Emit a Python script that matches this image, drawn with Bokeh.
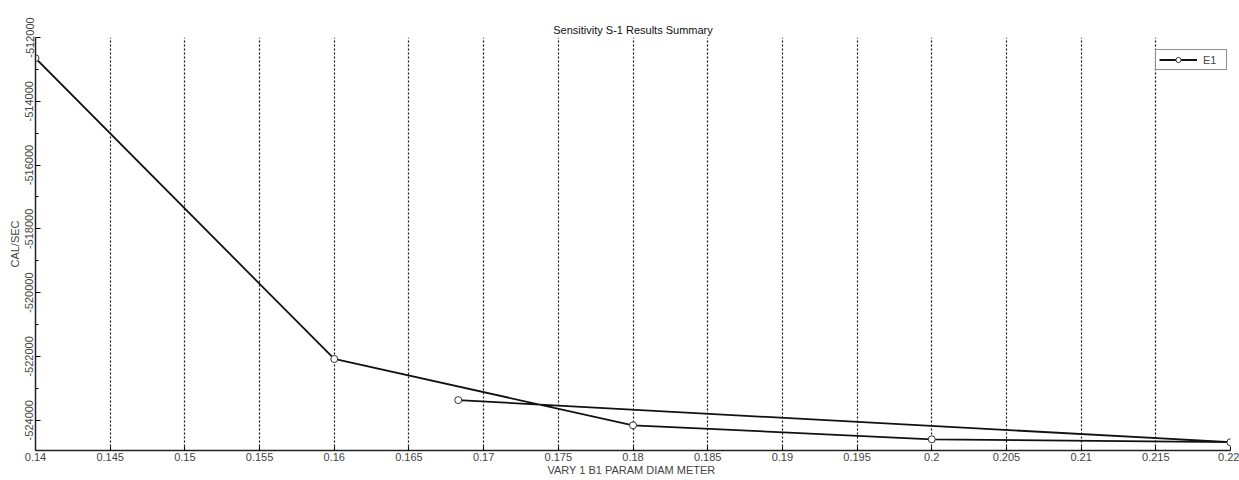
from bokeh.plotting import figure
from bokeh.models import ColumnDataSource, FixedTicker, Range1d, Legend, LegendItem
from bokeh.embed import file_html
from bokeh.resources import INLINE

# Data, in drawing order
diam = [0.14, 0.16, 0.18, 0.20, 0.22, 0.1683]
cal_sec = [-512650, -522080, -524160, -524600, -524690, -523370]

x_ticks = [0.14, 0.145, 0.15, 0.155, 0.16, 0.165, 0.17, 0.175, 0.18, 0.185,
           0.19, 0.195, 0.2, 0.205, 0.21, 0.215, 0.22]
x_tick_labels = ["0.14", "0.145", "0.15", "0.155", "0.16", "0.165", "0.17", "0.175",
                 "0.18", "0.185", "0.19", "0.195", "0.2", "0.205", "0.21", "0.215", "0.22"]
y_ticks = [-524000, -522000, -520000, -518000, -516000, -514000, -512000]
y_tick_labels = ["-524000", "-522000", "-520000", "-518000", "-516000", "-514000", "-512000"]
y_minor = [-525000, -523000, -521000, -519000, -517000, -515000, -513000]

FONT = "Liberation Sans"

p = figure(width=1239, height=480, output_backend="svg", toolbar_location=None,
           x_range=Range1d(0.14, 0.22), y_range=Range1d(-524950, -512000),
           min_border_left=35, min_border_right=9, min_border_top=37, min_border_bottom=30,
           title="Sensitivity S-1 Results Summary")
p.outline_line_color = None
p.background_fill_color = "white"
p.border_fill_color = "white"

p.title.align = "center"
p.title.text_font = FONT
p.title.text_font_size = "11px"
p.title.text_font_style = "normal"
p.title.text_color = "#111111"
p.title.standoff = 4
p.title.offset = 0

src = ColumnDataSource(dict(x=diam, y=cal_sec))
r_line = p.line("x", "y", source=src, line_color="#111111", line_width=1.8)
r_pts = p.scatter("x", "y", source=src, marker="circle", size=7, fill_color="white",
                  line_color="#333333", line_width=1)

# X axis
xa = p.xaxis[0]
xa.ticker = FixedTicker(ticks=x_ticks)
xa.major_label_overrides = {t: l for t, l in zip(x_ticks, x_tick_labels)}
xa.axis_label = "VARY 1 B1 PARAM DIAM  METER"
xa.axis_label_text_font = FONT
xa.axis_label_text_font_size = "11px"
xa.axis_label_text_font_style = "normal"
xa.axis_label_standoff = 0
xa.major_label_text_font = FONT
xa.major_label_text_font_size = "11px"
xa.major_label_standoff = 2
xa.major_tick_in = 4
xa.major_tick_out = 0
xa.minor_tick_line_color = None
xa.axis_line_color = "#222222"
xa.axis_line_width = 1.5

# Y axis
ya = p.yaxis[0]
ya.ticker = FixedTicker(ticks=y_ticks, minor_ticks=y_minor)
ya.major_label_overrides = {t: l for t, l in zip(y_ticks, y_tick_labels)}
ya.major_label_orientation = "vertical"
ya.axis_label = "CAL/SEC"
ya.axis_label_text_font = FONT
ya.axis_label_text_font_size = "11px"
ya.axis_label_text_font_style = "normal"
ya.axis_label_standoff = 2
ya.major_label_text_font = FONT
ya.major_label_text_font_size = "11px"
ya.major_label_standoff = 2
ya.major_tick_in = 5
ya.major_tick_out = 0
ya.minor_tick_in = 3
ya.minor_tick_out = 0
ya.axis_line_color = "#222222"
ya.axis_line_width = 1.5

# Grid: vertical dotted lines only
p.xgrid.grid_line_color = "#111111"
p.xgrid.grid_line_dash = "2 2"
p.xgrid.grid_line_width = 1.2
p.ygrid.grid_line_color = None

legend = Legend(items=[LegendItem(label="E1", renderers=[r_line, r_pts])],
                location=(1120, 380))
legend.glyph_width = 38
legend.glyph_height = 13
legend.label_height = 13
legend.label_standoff = 6
legend.padding = 3
legend.margin = 0
legend.spacing = 0
legend.border_line_color = "#222222"
legend.border_line_width = 1.2
legend.label_text_font = FONT
legend.label_text_font_size = "11px"
legend.background_fill_color = "white"
p.add_layout(legend, "center")

open("out.html", "w").write(file_html(p, INLINE))
